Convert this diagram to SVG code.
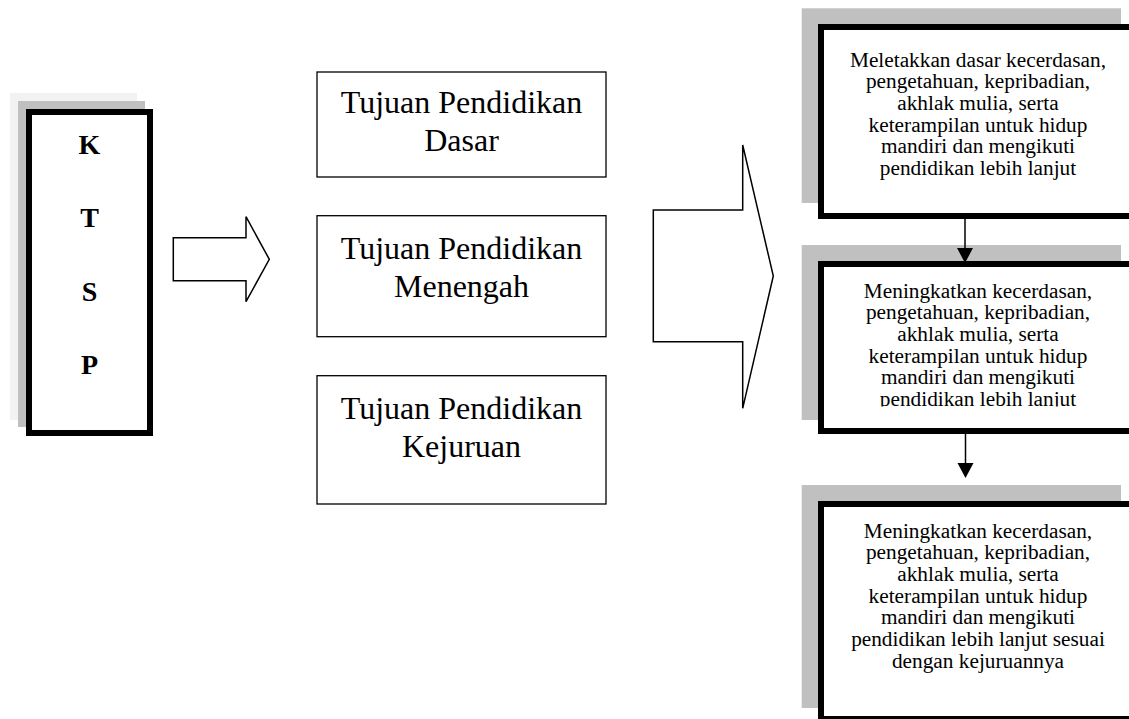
<svg xmlns="http://www.w3.org/2000/svg" width="1129" height="719" viewBox="0 0 1129 719">
  <style>
    .bg { fill: #ffffff; }
    .thick { fill: #ffffff; stroke: #000000; stroke-width: 6; }
    .thin { fill: #ffffff; stroke: #000000; stroke-width: 1.3; }
    .shade { fill: #c0c0c0; }
    .shade-light { fill: #f2f2f2; }
    .block { fill: #ffffff; stroke: #000000; stroke-width: 1.5; stroke-linejoin: miter; }
    .link { stroke: #000000; stroke-width: 1.5; fill: none; }
    .head { fill: #000000; }
    .ktsp { font-family: "Liberation Serif", "Times New Roman", serif; font-weight: bold; font-size: 28px; text-anchor: middle; fill: #000000; }
    .goal { font-family: "Liberation Serif", "Times New Roman", serif; font-size: 32px; text-anchor: middle; fill: #000000; }
    .desc { font-family: "Liberation Serif", "Times New Roman", serif; font-size: 21.3px; text-anchor: middle; fill: #000000; }
  </style>
  <defs>
    <clipPath id="clip-menengah">
      <rect x="824" y="267" width="310" height="139.5"/>
    </clipPath>
  </defs>

  <rect class="bg" x="0" y="0" width="1129" height="719"/>

  <!-- KTSP column with layered shadow -->
  <g id="ktsp">
    <rect class="shade-light" x="10" y="93" width="127" height="327"/>
    <rect class="shade" x="18" y="101" width="127" height="326"/>
    <rect class="thick" x="29" y="112" width="121" height="321"/>
    <text class="ktsp" x="89.5" y="154">K</text>
    <text class="ktsp" x="89.5" y="227">T</text>
    <text class="ktsp" x="89.5" y="301">S</text>
    <text class="ktsp" x="89.5" y="374">P</text>
  </g>

  <!-- block arrows -->
  <g id="arrow-ktsp">
    <polygon class="block" points="173.3,237.7 246,237.7 246,216.7 269.3,259.3 246,301.7 246,280.7 173.3,280.7"/>
  </g>

  <g id="tujuan-dasar">
    <rect class="thin" x="317" y="72" width="289" height="105"/>
    <text class="goal" x="461.5" y="112.7">Tujuan Pendidikan</text>
    <text class="goal" x="461.5" y="150.7">Dasar</text>
  </g>

  <g id="tujuan-menengah">
    <rect class="thin" x="317" y="215.7" width="289" height="121"/>
    <text class="goal" x="461.5" y="259.3">Tujuan Pendidikan</text>
    <text class="goal" x="461.5" y="297.3">Menengah</text>
  </g>

  <g id="tujuan-kejuruan">
    <rect class="thin" x="317" y="375.7" width="289" height="128.3"/>
    <text class="goal" x="461.5" y="419.3">Tujuan Pendidikan</text>
    <text class="goal" x="461.5" y="457.3">Kejuruan</text>
  </g>

  <g id="arrow-tujuan">
    <polygon class="block" points="653.3,210 742.7,210 742.7,145 773.3,276 742.7,408.3 742.7,341.7 653.3,341.7"/>
  </g>

  <!-- goal descriptions, right column -->
  <g id="desc-dasar">
    <rect class="shade" x="801.7" y="8.3" width="319.3" height="194.7"/>
    <rect class="thick" x="821" y="27" width="330" height="189"/>
    <text class="desc" x="978" y="66.5">Meletakkan dasar kecerdasan,</text>
    <text class="desc" x="978" y="88.2">pengetahuan, kepribadian,</text>
    <text class="desc" x="978" y="109.9">akhlak mulia, serta</text>
    <text class="desc" x="978" y="131.6">keterampilan untuk hidup</text>
    <text class="desc" x="978" y="153.3">mandiri dan mengikuti</text>
    <text class="desc" x="978" y="175">pendidikan lebih lanjut</text>
  </g>

  <g id="desc-menengah">
    <rect class="shade" x="801.7" y="245" width="319.3" height="175"/>
    <rect class="thick" x="821" y="264" width="330" height="167"/>
    <g clip-path="url(#clip-menengah)">
      <text class="desc" x="978" y="297.5">Meningkatkan kecerdasan,</text>
      <text class="desc" x="978" y="319.2">pengetahuan, kepribadian,</text>
      <text class="desc" x="978" y="340.9">akhlak mulia, serta</text>
      <text class="desc" x="978" y="362.6">keterampilan untuk hidup</text>
      <text class="desc" x="978" y="384.3">mandiri dan mengikuti</text>
      <text class="desc" x="978" y="406">pendidikan lebih lanjut</text>
    </g>
  </g>

  <g id="desc-kejuruan">
    <rect class="shade" x="801.7" y="485" width="319.3" height="223"/>
    <rect class="thick" x="821" y="504" width="330" height="215"/>
    <text class="desc" x="978" y="537.5">Meningkatkan kecerdasan,</text>
    <text class="desc" x="978" y="559.2">pengetahuan, kepribadian,</text>
    <text class="desc" x="978" y="580.9">akhlak mulia, serta</text>
    <text class="desc" x="978" y="602.6">keterampilan untuk hidup</text>
    <text class="desc" x="978" y="624.3">mandiri dan mengikuti</text>
    <text class="desc" x="978" y="646">pendidikan lebih lanjut sesuai</text>
    <text class="desc" x="978" y="667.7">dengan kejuruannya</text>
  </g>

  <!-- connectors between the description boxes -->
  <g id="connectors">
    <line class="link" x1="965" y1="219" x2="965" y2="250"/>
    <polygon class="head" points="957,248 973,248 965,263"/>
    <line class="link" x1="965.5" y1="434" x2="965.5" y2="465"/>
    <polygon class="head" points="957.5,463 973.5,463 965.5,478"/>
  </g>
</svg>
